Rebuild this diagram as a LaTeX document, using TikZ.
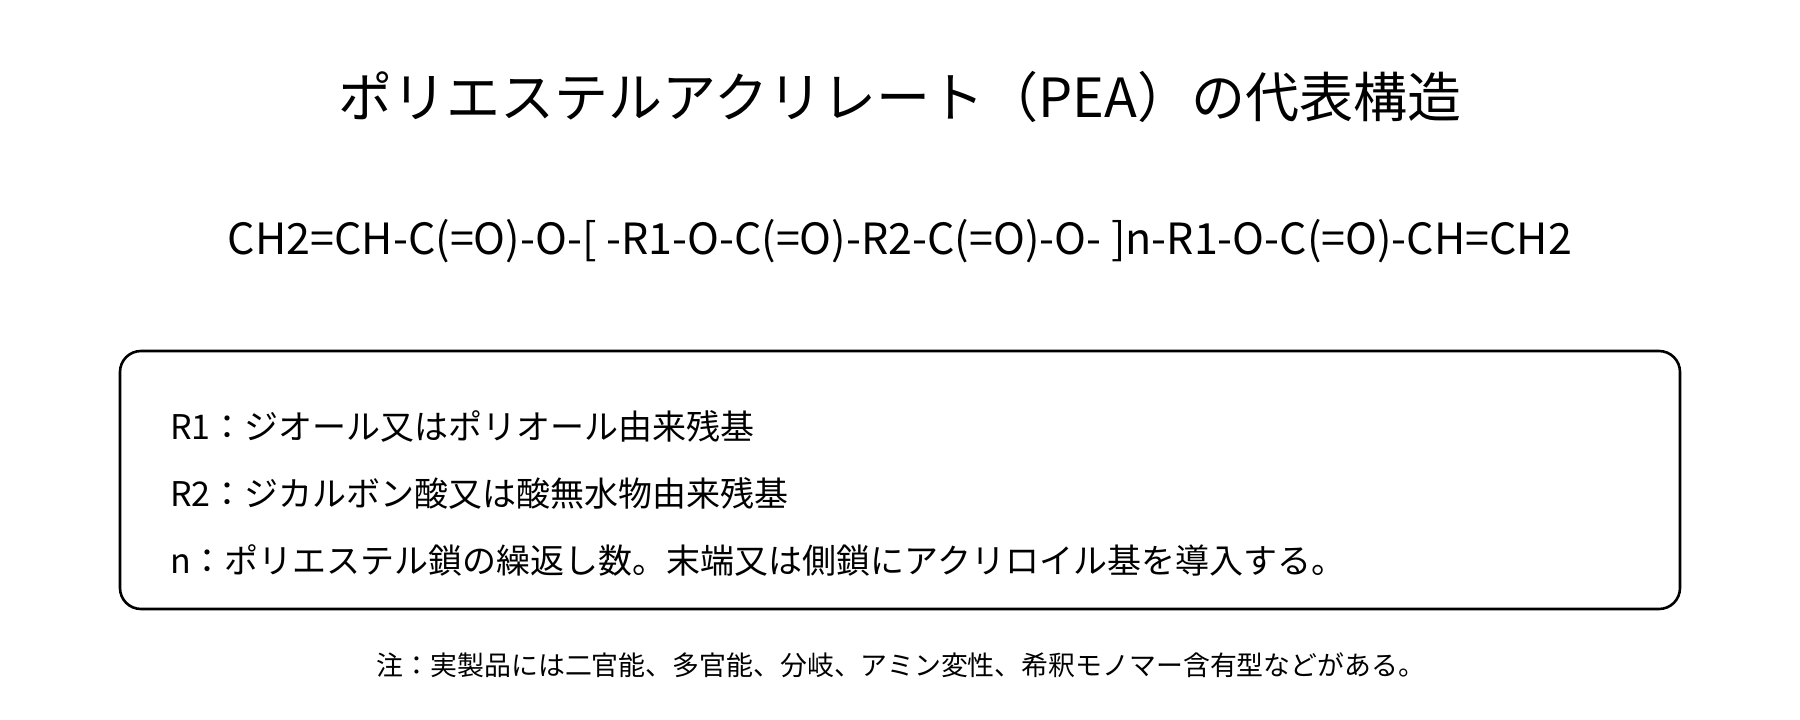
\documentclass[tikz,border=0pt]{standalone}
\usepackage{fontspec}
\setmainfont{Noto Sans CJK JP}
\tikzset{
  txt/.style={inner sep=0pt, outer sep=0pt, anchor=base},
  legend/.style={draw=black, line width=2.6pt, rounded corners=21pt},
}
\begin{document}
\begin{tikzpicture}[x=1pt,y=-1pt]
\useasboundingbox (0,0) rectangle (1800,720);
\node[txt] (title) at (900,117) {\fontsize{54}{60}\selectfont ポリエステルアクリレート（PEA）の代表構造};
\node[txt] (formula) at (900,254) {\fontsize{43}{50}\selectfont CH2=CH-C(=O)-O-[ -R1-O-C(=O)-R2-C(=O)-O- ]n-R1-O-C(=O)-CH=CH2};
\draw[legend] (120,351) rectangle (1680,609);
\node[txt, anchor=base west] (r1) at (170,439) {\fontsize{34}{40}\selectfont R1：ジオール又はポリオール由来残基};
\node[txt, anchor=base west] (r2) at (170,506) {\fontsize{34}{40}\selectfont R2：ジカルボン酸又は酸無水物由来残基};
\node[txt, anchor=base west] (n) at (170,573) {\fontsize{34}{40}\selectfont n：ポリエステル鎖の繰返し数。末端又は側鎖にアクリロイル基を導入する。};
\node[txt] (note) at (901,675) {\fontsize{26.9}{32}\selectfont 注：実製品には二官能、多官能、分岐、アミン変性、希釈モノマー含有型などがある。};
\end{tikzpicture}
\end{document}
